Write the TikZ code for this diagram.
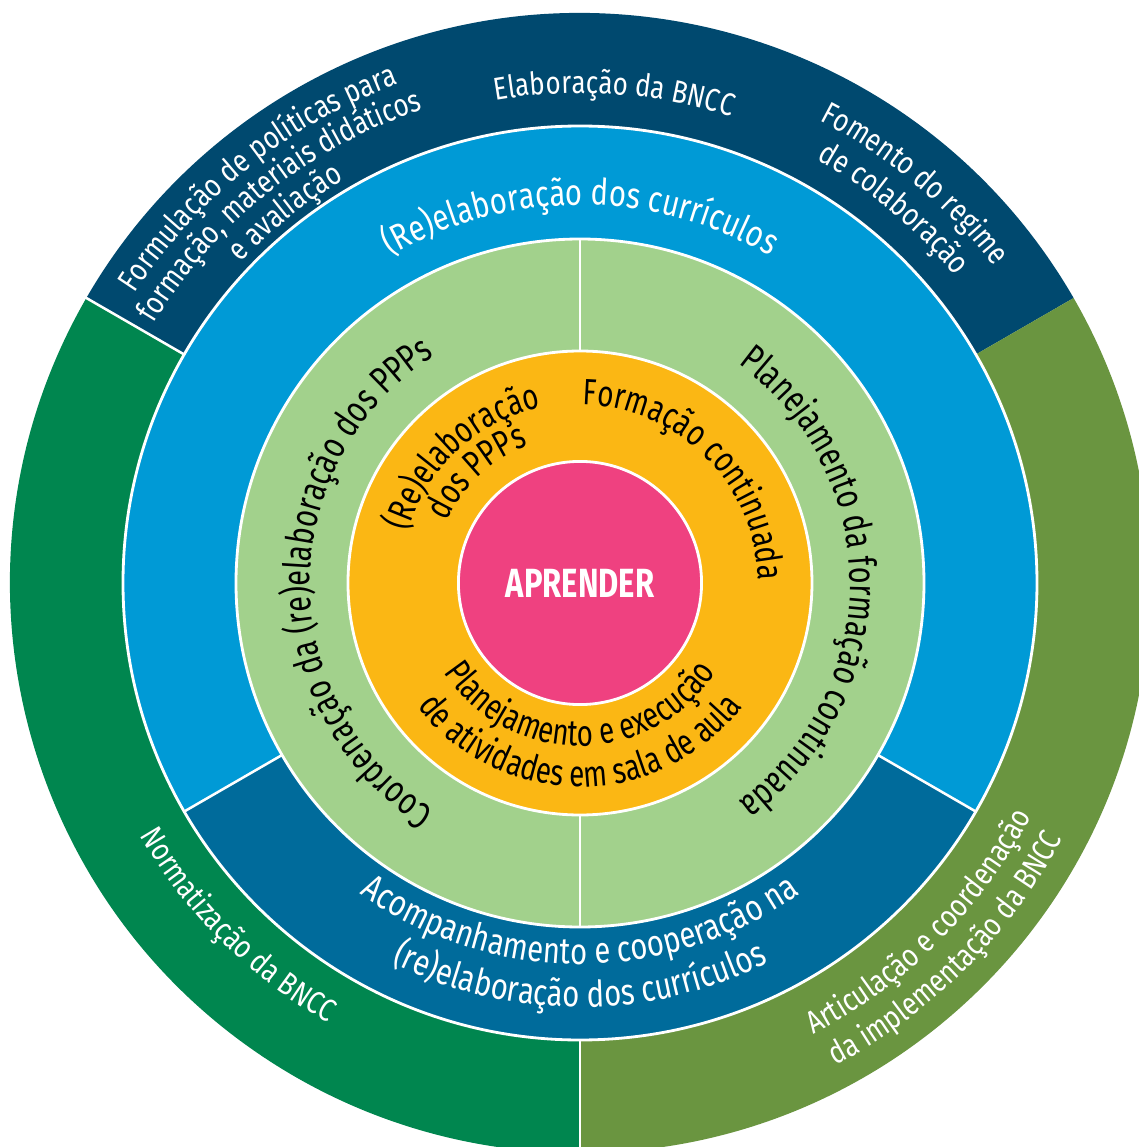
\documentclass[tikz,border=0pt]{standalone}
\usepackage{fontspec}
\setmainfont{Fira Sans}[FakeStretch=0.76]
\newfontfamily\outerfamily{Fira Sans}[FakeStretch=0.82]
\newfontfamily\bluefamily{Fira Sans}[FakeStretch=0.80]
\usetikzlibrary{decorations.text}

\definecolor{navyblue}{HTML}{00496F}
\definecolor{skyblue}{HTML}{009AD6}
\definecolor{deepblue}{HTML}{006B9B}
\definecolor{darkgreen}{HTML}{00864F}
\definecolor{olivegreen}{HTML}{6A9540}
\definecolor{lightgreen}{HTML}{A2D18C}
\definecolor{amber}{HTML}{FBB714}
\definecolor{rose}{HTML}{EF4180}

\newcommand{\outerfont}{\outerfamily\fontsize{22.5}{26}\selectfont\color{white}}
\newcommand{\bluefont}{\bluefamily\fontsize{26}{30}\selectfont\color{white}}
\newcommand{\greenfont}{\fontsize{27}{31}\selectfont\color{black}}
\newcommand{\amberfont}{\fontsize{26}{30}\selectfont\color{black}}

\tikzset{
  ringtext/.style={decorate, decoration={text along path, text align=center}},
  sep/.style={white, line width=1.8pt},
  border/.style={draw=white, line width=2pt}
}

\begin{document}
\begin{tikzpicture}[x=0.025cm, y=0.025cm]
    \useasboundingbox (-580,-564) rectangle (559,583);

    % outer ring
    \fill[navyblue] (0,0) -- (30:570) arc[start angle=30, end angle=150, radius=570] -- cycle;
    \fill[darkgreen] (0,0) -- (150:570) arc[start angle=150, end angle=270, radius=570] -- cycle;
    \fill[olivegreen] (0,0) -- (270:570) arc[start angle=270, end angle=390, radius=570] -- cycle;
    \draw[sep] (150:450) -- (150:575);
    \draw[white, line width=0.8pt] (270:450) -- (270:575);

    % curricula ring
    \fill[skyblue] (0,0) -- (-30:457) arc[start angle=-30, end angle=210, radius=457] -- cycle;
    \fill[deepblue] (0,0) -- (210:457) arc[start angle=210, end angle=330, radius=457] -- cycle;
    \draw[border] (0,0) circle (457);
    \draw[sep] (210:340) -- (210:457);
    \draw[sep] (330:340) -- (330:457);

    % school ring
    \filldraw[fill=lightgreen, border] (0,0) circle (344);
    \draw[sep] (90:230) -- (90:344);
    \draw[sep] (270:230) -- (270:344);

    % classroom ring and core
    \filldraw[fill=amber, border] (0,0) circle (232);
    \node[circle, fill=rose, border, minimum size=172.9pt, inner sep=0pt, text=white,
          font=\fontsize{29}{33}\selectfont\bfseries] (core) at (0,0) {APRENDER};

    % outer labels
    \path[ringtext, decoration={text={|\outerfont|Elaboração da BNCC}}]
        (126:490) arc[start angle=126, end angle=46, radius=490];
    \path[ringtext, decoration={text={|\outerfont|Formulação de políticas para}}]
        (161:531) arc[start angle=161, end angle=96, radius=531];
    \path[ringtext, decoration={text={|\outerfont|formação, materiais didáticos}}]
        (161:499) arc[start angle=161, end angle=96, radius=499];
    \path[ringtext, decoration={text={|\outerfont|e avaliação}}]
        (161:467) arc[start angle=161, end angle=96, radius=467];
    \path[ringtext, decoration={text={|\outerfont|Fomento do regime}}]
        (80:521) arc[start angle=80, end angle=20, radius=521];
    \path[ringtext, decoration={text={|\outerfont|de colaboração}}]
        (80:485) arc[start angle=80, end angle=20, radius=485];
    \path[ringtext, decoration={text={|\outerfont|Normatização da BNCC}}]
        (190:507) arc[start angle=190, end angle=260, radius=507];
    \path[ringtext, decoration={text={|\outerfont|Articulação e coordenação}}]
        (-80:508) arc[start angle=-80, end angle=-10, radius=508];
    \path[ringtext, decoration={text={|\outerfont|da implementação da BNCC}}]
        (-80:546) arc[start angle=-80, end angle=-10, radius=546];

    % curricula labels
    \path[ringtext, decoration={text={|\bluefont|(Re)elaboração dos currículos}}]
        (150:378) arc[start angle=150, end angle=30, radius=378];
    \path[ringtext, decoration={text={|\bluefont|Acompanhamento e cooperação na}}]
        (210:381) arc[start angle=210, end angle=330, radius=381];
    \path[ringtext, decoration={text={|\bluefont|(re)elaboração dos currículos}}]
        (210:424) arc[start angle=210, end angle=330, radius=424];

    % school labels
    \path[ringtext, decoration={text={|\greenfont|Coordenação da (re)elaboração dos PPPs}}]
        (255:270) arc[start angle=255, end angle=105, radius=270];
    \path[ringtext, decoration={text={|\greenfont|Planejamento da formação continuada}}]
        (75:270) arc[start angle=75, end angle=-75, radius=270];

    % classroom labels
    \path[ringtext, decoration={text={|\amberfont|(Re)elaboração}}]
        (185:180) arc[start angle=185, end angle=81, radius=180];
    \path[ringtext, decoration={text={|\amberfont|dos PPPs}}]
        (185:147) arc[start angle=185, end angle=81, radius=147];
    \path[ringtext, decoration={text={|\amberfont|Formação continuada}}]
        (100:178) arc[start angle=100, end angle=-10, radius=178];
    \path[ringtext, decoration={text={|\amberfont|Planejamento e execução}}]
        (200:163) arc[start angle=200, end angle=340, radius=163];
    \path[ringtext, decoration={text={|\amberfont|de atividades em sala de aula}}]
        (205:204) arc[start angle=205, end angle=335, radius=204];
\end{tikzpicture}
\end{document}
